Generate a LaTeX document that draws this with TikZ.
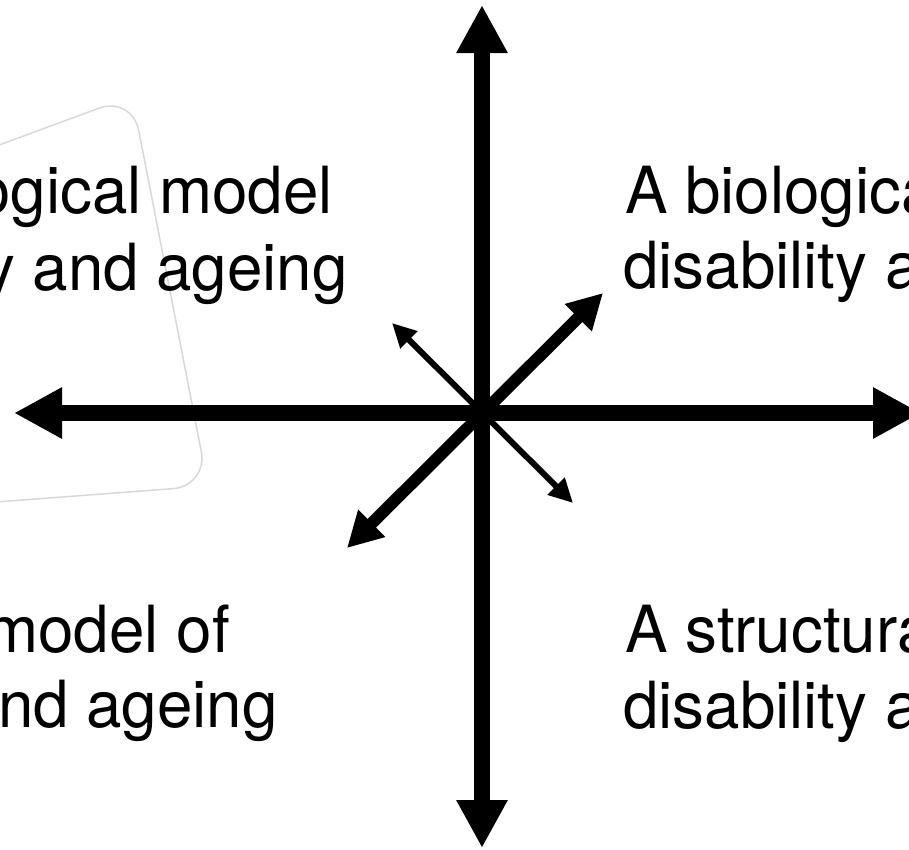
\documentclass[tikz,border=0pt]{standalone}
\usepackage{fontspec}
\setmainfont[FakeStretch=0.98]{TeX Gyre Heros}
\usetikzlibrary{arrows.meta}
\begin{document}
\begin{tikzpicture}[x=1pt,y=-1pt,
  bigarrow/.style={line width=16pt,{Triangle[length=48pt,width=48pt]}-{Triangle[length=48pt,width=48pt]}},
  midarrow/.style={line width=12pt,{Triangle[length=35pt,width=36pt]}-{Triangle[length=35pt,width=36pt]}},
  thinarrow/.style={line width=6pt,{Triangle[length=24pt,width=23pt]}-{Triangle[length=24pt,width=23pt]}},
  txt/.style={inner sep=0pt,font=\fontsize{65}{76}\selectfont},
  faintbox/.style={draw=black!15,line width=1.5pt,rounded corners=35pt}]
\useasboundingbox (0,0) rectangle (909,849);
\clip (0,0) rectangle (909,849);
\fill[white] (0,0) rectangle (909,849);
% faint rounded quadrilateral
\draw[faintbox] (-150,200) -- (132,96) -- (208,486) -- (-150,513) -- cycle;
% texts
\node[txt,anchor=base east] (ul1) at (333,213) {ogical model};
\node[txt,anchor=base east] (ul2) at (348,290) {y and ageing};
\node[txt,anchor=base west] (ur1) at (625,213) {A biologica};
\node[txt,anchor=base west] (ur2) at (623,288) {disability a};
\node[txt,anchor=base east] (ll1) at (230,652) {model of};
\node[txt,anchor=base east] (ll2) at (278,727) {nd ageing};
\node[txt,anchor=base west] (lr1) at (625,652) {A structura};
\node[txt,anchor=base west] (lr2) at (623,728) {disability a};
% arrows
\coordinate (c) at (481,413);
\coordinate (top) at (482,5);
\coordinate (bot) at (482,848);
\coordinate (lft) at (14,413);
\coordinate (rgt) at (921,413);
\coordinate (ur) at (603,293);
\coordinate (ll) at (347,548);
\coordinate (ul) at (392,323);
\coordinate (lr) at (573,503);
\draw[bigarrow] (top) -- (bot);
\draw[bigarrow] (lft) -- (rgt);
\draw[midarrow] (ll) -- (ur);
\draw[thinarrow] (ul) -- (lr);
\end{tikzpicture}
\end{document}
